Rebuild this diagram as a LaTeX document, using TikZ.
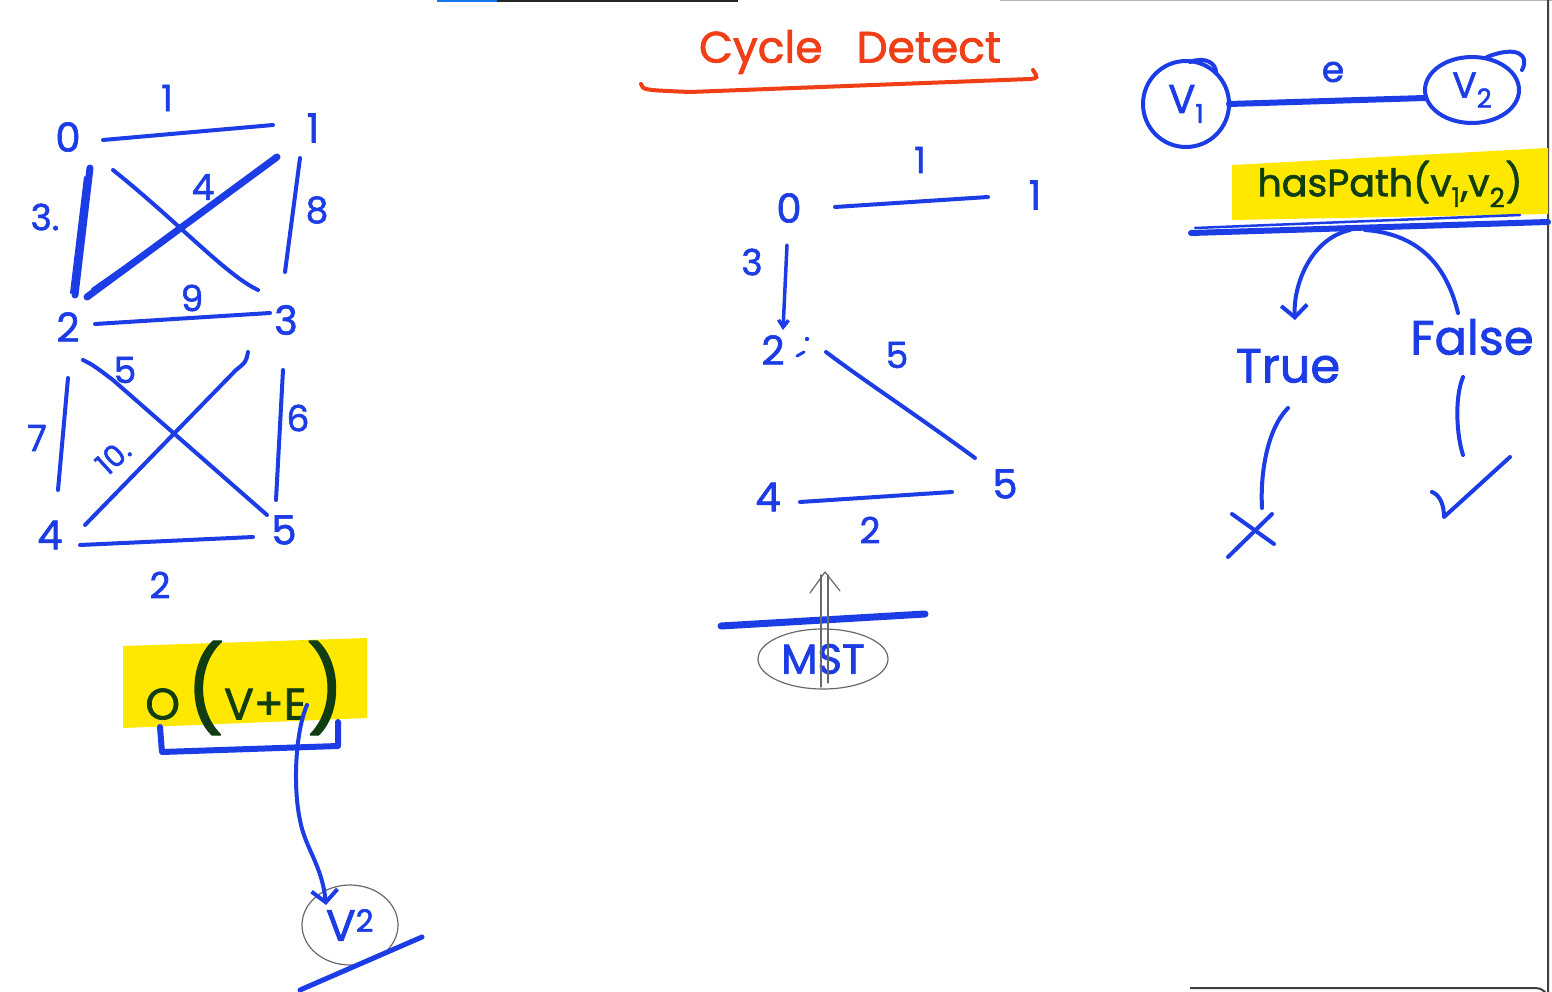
\documentclass[tikz,border=0pt]{standalone}
\usepackage{fontspec}
\newfontfamily\hw{Poppins}[FakeBold=1.6]
\usetikzlibrary{calc,arrows.meta,shapes.geometric}
\definecolor{ink}{RGB}{28,60,230}
\definecolor{redink}{RGB}{240,62,22}
\definecolor{hilite}{RGB}{255,232,0}
\definecolor{darkink}{RGB}{16,62,18}
\definecolor{pencil}{RGB}{105,105,105}
\begin{document}
\begin{tikzpicture}[x=1pt,y=-1pt,
  pen/.style={draw=ink,line width=4pt,line cap=round,line join=round},
  fatpen/.style={pen,line width=7pt},
  thinpen/.style={draw=pencil,line width=1.2pt,line cap=round,line join=round},
  lbl/.style={text=ink,inner sep=0pt,font=\hw\fontsize{40}{44}\selectfont},
  wlbl/.style={text=ink,inner sep=0pt,font=\hw\fontsize{36}{40}\selectfont},
  word/.style={text=ink,inner sep=0pt,font=\hw\fontsize{48}{52}\selectfont},
  hl/.style={text=darkink,inner sep=0pt,font=\hw\fontsize{38}{42}\selectfont},
  barb/.style={-{Straight Barb[length=12pt,width=26pt]}}
]
\useasboundingbox (0,0) rectangle (1552,992);
\fill[white] (0,0) rectangle (1552,992);
% screen frame
\draw[black!85,line width=2.5pt] (497,0.5) -- (738,0.5);
\draw[ink!70!cyan,line width=2.5pt] (437,0.5) -- (497,0.5);
\draw[black!30,line width=1pt] (1000,1) -- (1552,1);
\draw[black!75,line width=2pt] (1190,988) -- (1536,988) arc[start angle=270,end angle=360,radius=12] -- (1548,0);

% ---------------- left graph ----------------
\node[lbl] (a0) at (68,137) {0};
\node[lbl] (a1) at (313,128) {1};
\node[lbl] (a2) at (68,327) {2};
\node[lbl] (a3) at (286,320) {3};
\node[lbl] (a4) at (50,535) {4};
\node[lbl] (a5) at (284,530) {5};
\node[wlbl] (w01) at (167,98) {1};
\node[wlbl] (w02) at (45,217) {3.};
\node[wlbl] (w12) at (203,187) {4};
\node[wlbl] (w13) at (317,210) {8};
\node[wlbl] (w23) at (192,298) {9};
\node[wlbl] (w25) at (125,370) {5};
\node[wlbl] (w24) at (37,438) {7};
\node[wlbl,rotate=42,font=\hw\fontsize{30}{34}\selectfont] (w34) at (113,457) {10.};
\node[wlbl] (w35) at (298,418) {6};
\node[wlbl] (w45) at (160,585) {2};

\draw[pen] ($(a0)+(35,3)$) -- ($(a1)+(-40,-3)$);
\draw[fatpen] ($(a0)+(22,31)$) -- ($(a2)+(7,-32)$);
\draw[pen,line width=2pt] ($(a0)+(17,40)$) -- ($(a2)+(3,-34)$);
\draw[pen] ($(a0)+(45,33)$) .. controls ($(a0)+(110,85)$) and ($(a3)+(-60,-45)$) .. ($(a3)+(-28,-30)$);
\draw[fatpen] ($(a1)+(-36,29)$) -- ($(a2)+(19,-30)$);
\draw[pen,line width=2pt] ($(a1)+(-42,36)$) -- ($(a2)+(24,-38)$);
\draw[pen] ($(a3)+(-1,-48)$) -- ($(a1)+(-13,30)$);
\draw[pen] ($(a2)+(27,-3)$) -- ($(a3)+(-16,-7)$);
\draw[pen] ($(a2)+(15,33)$) .. controls ($(a2)+(25,38)$) .. ($(a2)+(45,53)$) -- ($(a5)+(-17,-15)$);
\draw[pen] ($(a3)+(-38,32)$) .. controls ($(a3)+(-40,42)$) .. ($(a3)+(-50,50)$) -- ($(a4)+(35,-10)$);
\draw[pen] ($(a2)+(0,51)$) -- ($(a4)+(8,-45)$);
\draw[pen] ($(a3)+(-3,50)$) -- ($(a5)+(-8,-30)$);
\draw[pen] ($(a4)+(30,10)$) -- ($(a5)+(-31,7)$);

% O(V+E)
\fill[hilite] (123,646) -- (367,638) -- (367,718) -- (123,728) -- cycle;
\node[hl,font=\hw\fontsize{44}{48}\selectfont] (ove) at (245,688)
  {O\hspace{6pt}{\fontsize{84}{84}\selectfont(}V+E{\fontsize{84}{84}\selectfont)}};
\draw[pen,line width=6pt] ($(ove)+(-85,39)$) -- ($(ove)+(-83,64)$) -- ($(ove)+(93,58)$) -- ($(ove)+(93,34)$);
\node[text=ink,inner sep=0pt,font=\hw\fontsize{44}{48}\selectfont] (vsq) at (350,925) {V\textsuperscript{2}};
\draw[thinpen] (vsq) ellipse[x radius=48,y radius=40];
\draw[pen,barb] ($(ove)+(62,17)$) .. controls ($(ove)+(50,45)$) and ($(ove)+(48,100)$) .. ($(ove)+(55,132)$)
   .. controls ($(ove)+(60,160)$) and ($(vsq)+(-28,-60)$) .. ($(vsq)+(-24,-20)$);
\draw[pen,line width=5pt] (300,990) -- (422,937);

% ---------------- middle ----------------
\node[text=redink,inner sep=0pt,font=\hw\fontsize{44}{48}\selectfont] (title) at (850,52) {Cycle\hspace{34pt}Detect};
\draw[draw=redink,line width=4pt,line cap=round] (641,84) .. controls (643,90) .. (690,92) -- (1030,79) .. controls (1038,78) .. (1033,70);

\node[lbl] (b0) at (789,208) {0};
\node[lbl] (b1) at (1035,195) {1};
\node[lbl] (b2) at (773,350) {2};
\node[lbl] (b4) at (768,497) {4};
\node[lbl] (b5) at (1005,484) {5};
\node[wlbl] (x01) at (920,160) {1};
\node[wlbl] (x02) at (752,262) {3};
\node[wlbl] (x25) at (897,355) {5};
\node[wlbl] (x45) at (870,530) {2};
\draw[pen,line width=3pt] ($(b2)+(24,6)$) -- ($(b2)+(31,2)$);
\fill[ink] ($(b2)+(34,-11)$) circle (2.2);

\draw[pen] ($(b0)+(46,-1)$) -- ($(b1)+(-47,2)$);
\draw[pen,line width=3.5pt,-{Straight Barb[length=7pt,width=10pt]}] ($(b0)+(-2,37)$) -- ($(b2)+(10,-20)$);
\draw[pen] ($(b2)+(53,2)$) .. controls ($(b2)+(90,30)$) and ($(b5)+(-90,-70)$) .. ($(b5)+(-30,-26)$);
\draw[pen] ($(b4)+(32,5)$) -- ($(b5)+(-53,8)$);

\draw[fatpen,line width=7pt] (721,626) -- (925,614);
\node[text=ink,inner sep=0pt,font=\hw\fontsize{42}{46}\selectfont] (mst) at (823,659) {MST};
\draw[thinpen] (mst) ellipse[x radius=65,y radius=30];
\draw[thinpen] ($(mst)+(-2,28)$) -- ($(mst)+(-2,-84)$);
\draw[thinpen] ($(mst)+(5,24)$) -- ($(mst)+(5,-84)$);
\draw[thinpen] ($(mst)+(-13,-66)$) -- ($(mst)+(2,-87)$) -- ($(mst)+(17,-68)$);

% ---------------- right ----------------
\node[text=ink,inner sep=0pt,font=\hw\fontsize{40}{44}\selectfont] (v1) at (1186,104)
  {V\raisebox{-10pt}{\fontsize{26}{28}\selectfont 1}};
\draw[pen] (v1) circle (43);
\draw[pen] ($(v1)+(4,-42)$) .. controls ($(v1)+(20,-48)$) and ($(v1)+(30,-40)$) .. ($(v1)+(30,-32)$);
\node[text=ink,inner sep=0pt,font=\hw\fontsize{36}{40}\selectfont] (v2) at (1472,90)
  {V\raisebox{-10pt}{\fontsize{26}{28}\selectfont 2}};
\draw[pen] (v2) ellipse[x radius=47,y radius=33];
\draw[pen] ($(v2)+(15,-33)$) .. controls ($(v2)+(45,-45)$) and ($(v2)+(58,-35)$) .. ($(v2)+(50,-20)$);
\node[wlbl] (elbl) at (1333,72) {e};
\draw[pen,line width=6pt] (v1) ++(43,0) -- ($(v2)+(-47,8)$);

\fill[hilite] (1232,165) -- (1548,148) -- (1548,214) -- (1232,220) -- cycle;
\node[hl] (hp) at (1390,184) {hasPath(v\textsubscript{1},v\textsubscript{2})};
\draw[pen,line width=6pt] (1191,233) -- (1548,222);
\draw[pen,line width=2.5pt] (1195,228) -- (1520,215);

\node[word] (tru) at (1288,366) {True};
\node[word] (fal) at (1472,337) {False};
\draw[pen,barb] ($(hp)+(-40,46)$) .. controls ($(hp)+(-80,55)$) and ($(tru)+(5,-80)$) .. ($(tru)+(7,-46)$);
\draw[pen] ($(hp)+(-25,46)$) .. controls ($(hp)+(30,50)$) and ($(fal)+(-25,-70)$) .. ($(fal)+(-14,-24)$);
\draw[pen] ($(tru)+(0,42)$) .. controls ($(tru)+(-20,62)$) and ($(tru)+(-28,105)$) .. ($(tru)+(-26,142)$);
\draw[pen] (1228,557) -- (1272,514);
\draw[pen] (1232,514) -- (1274,544);
\draw[pen] ($(fal)+(-9,40)$) .. controls ($(fal)+(-18,62)$) and ($(fal)+(-15,100)$) .. ($(fal)+(-9,118)$);
\draw[pen] (1432,492) .. controls (1440,495) and (1444,505) .. (1444,517) -- (1510,457);
\end{tikzpicture}
\end{document}
